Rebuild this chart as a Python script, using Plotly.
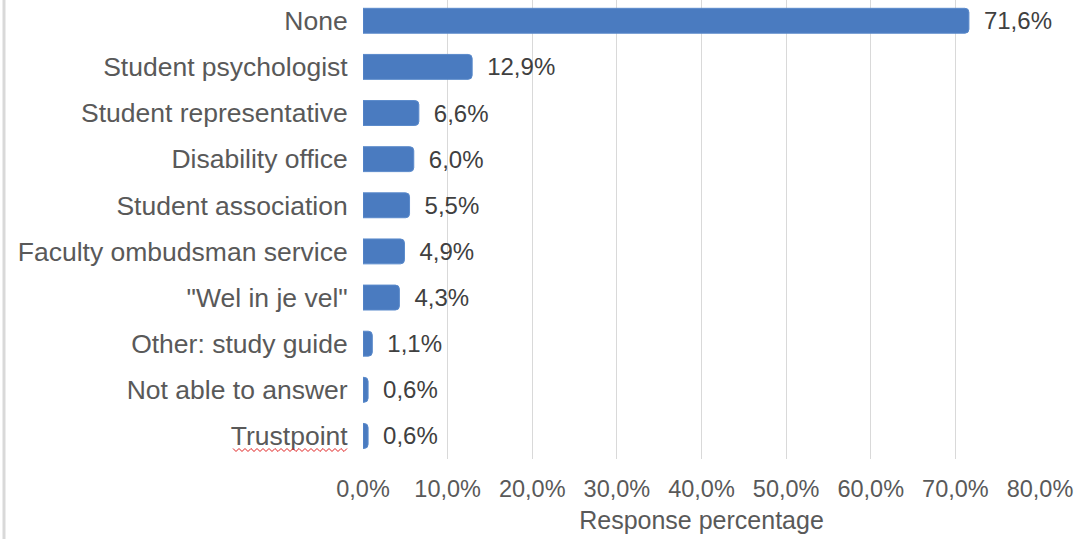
import plotly.graph_objects as go

categories = ["None", "Student psychologist", "Student representative", "Disability office",
              "Student association", "Faculty ombudsman service", "\"Wel in je vel\"",
              "Other: study guide", "Not able to answer", "Trustpoint"]
values = [71.6, 12.9, 6.6, 6.0, 5.5, 4.9, 4.3, 1.1, 0.6, 0.6]
x_ticks = [0, 10, 20, 30, 40, 50, 60, 70, 80]
x_tick_labels = ["0,0%", "10,0%", "20,0%", "30,0%", "40,0%", "50,0%", "60,0%", "70,0%", "80,0%"]
x_title = "Response percentage"

W, H = 1085, 539
ML, MR, MT, MB = 363, 45, 0, 80
pw = W - ML - MR
ph = H - MT - MB
FONT = "Liberation Sans, Arial, sans-serif"

fig = go.Figure(go.Bar(
    x=values, y=categories, orientation="h",
    marker=dict(color="#4A7BC0", line=dict(color="#5A8ACB", width=1)),
    width=0.54,
    texttemplate="\u2002%{x:.1f}%", textposition="outside",
    constraintext="none",
    textfont=dict(size=24, color="#404040", family=FONT),
    cliponaxis=False,
    hoverinfo="skip",
))

# left border line of the picture frame
shapes = [dict(type="line", xref="paper", yref="paper",
               x0=(4 - ML) / pw, x1=(4 - ML) / pw, y0=1, y1=-MB / ph,
               line=dict(color="#D9D9D9", width=3))]

# red spell-check squiggle under "Trustpoint"
x_start, x_end, y_base = 233, 348, 450
pts = []
xx = x_start
i = 0
while xx <= x_end:
    yy = y_base + (1.5 if i % 2 else -1.5)
    pts.append(((xx - ML) / pw, (ph - (yy - MT)) / ph))
    xx += 3
    i += 1
path = "M " + " L ".join(f"{px:.5f},{py:.5f}" for px, py in pts)
shapes.append(dict(type="path", xref="paper", yref="paper", path=path,
                   line=dict(color="#E02020", width=1)))

fig.update_layout(
    width=W, height=H,
    margin=dict(l=ML, r=MR, t=MT, b=MB, pad=0, autoexpand=False),
    paper_bgcolor="white", plot_bgcolor="white",
    separators=",.",
    showlegend=False,
    barcornerradius=4,
    font=dict(family=FONT, size=24, color="#595959"),
    xaxis=dict(range=[0, 80], tickvals=x_ticks, ticktext=x_tick_labels,
               showgrid=True, gridcolor="#D9D9D9", gridwidth=1,
               zeroline=False, showline=False,
               ticks="outside", ticklen=9, tickcolor="rgba(0,0,0,0)",
               tickfont=dict(size=23.5, color="#595959", family=FONT),
               title=dict(text=x_title, font=dict(size=25, color="#595959", family=FONT), standoff=10),
               automargin=False),
    yaxis=dict(categoryorder="array", categoryarray=categories,
               range=[9.5, -0.45], showgrid=False, zeroline=False,
               showline=False, ticks="outside", ticklen=9, tickcolor="rgba(0,0,0,0)",
               tickfont=dict(size=26.5, color="#595959", family=FONT), automargin=False),
    shapes=shapes,
)

fig.write_html("out.html", config={"displayModeBar": False, "staticPlot": True},
               post_script="document.body.style.margin='0';document.body.style.overflow='hidden';")
